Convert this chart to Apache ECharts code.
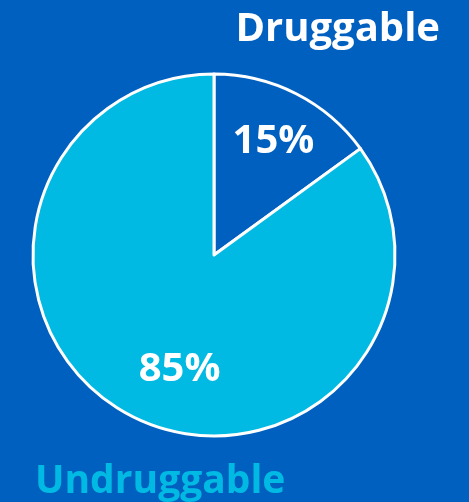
<!DOCTYPE html>
<html>
<head>
<meta charset="utf-8">
<script src="https://cdn.jsdelivr.net/npm/echarts@6/dist/echarts.min.js"></script>
<style>
  html, body { margin: 0; padding: 0; background: #0060C0; }
  #chart { width: 469px; height: 502px; }
</style>
</head>
<body>
<div id="chart"></div>
<script>
// Share of targets, in percent
const categories = ['Druggable', 'Undruggable'];
const values = [15, 85];
const sliceColors = ['#0060C0', '#00BAE3'];
const labelOffsets = [[17, -30], [8, 31]];

const chart = echarts.init(document.getElementById('chart'));

const font = '"Open Sans", "Noto Sans", sans-serif';

chart.setOption({
  backgroundColor: '#0060C0',
  animation: false,
  title: [
    {
      text: categories[0],
      right: 24,
      top: 5,
      textStyle: { color: '#ffffff', fontSize: 40, fontWeight: 'bold', fontFamily: font }
    },
    {
      text: categories[1],
      left: 30,
      bottom: -4,
      textStyle: { color: '#00BAE3', fontSize: 39, fontWeight: 'bold', fontFamily: font }
    }
  ],
  series: [{
    type: 'pie',
    center: [214, 255],
    radius: 181,
    startAngle: 90,
    clockwise: true,
    silent: true,
    itemStyle: { borderColor: '#ffffff', borderWidth: 3 },
    label: {
      show: true,
      position: 'inside',
      formatter: p => p.value + '%',
      color: '#ffffff',
      fontSize: 40,
      fontWeight: 'bold',
      fontFamily: font
    },
    labelLine: { show: false },
    data: categories.map((name, i) => ({
      name,
      value: values[i],
      itemStyle: { color: sliceColors[i] },
      label: { offset: labelOffsets[i] }
    }))
  }]
});
</script>
</body>
</html>
